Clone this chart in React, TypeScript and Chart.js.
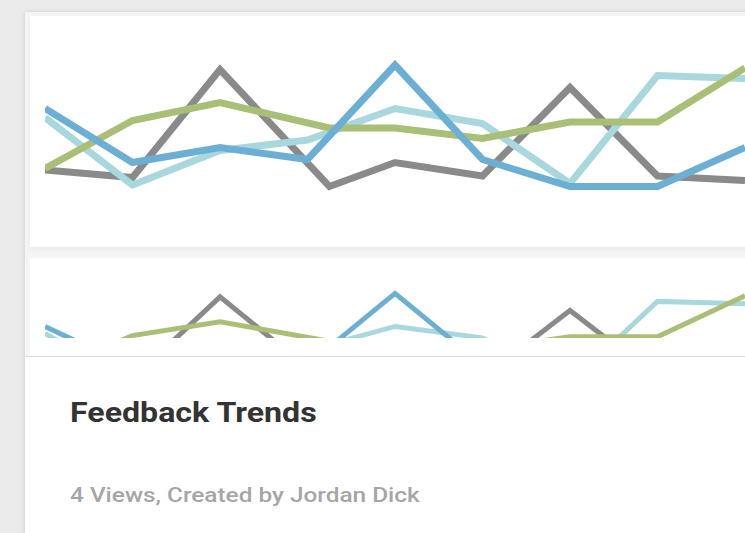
import React, { useEffect, useRef } from "react";
import { Chart, registerables } from "chart.js";

Chart.register(...registerables);

// Day positions along the x axis (two series have a mid-day reading on day 3)
const days = [0, 1, 2, 3, 4, 5, 6, 7, 8];
const shiftedDays = [0, 1, 2, 3.25, 4, 5, 6, 7, 8];

// Feedback scores per series
const slateScores = [20, 15, 87, 9, 25, 16, 75, 16, 13];
const oceanScores = [61, 25, 35, 27, 90, 27, 9, 9, 35];
const mistScores = [55, 10, 33, 40, 61, 51, 11, 83, 81];
const sageScores = [21, 53, 65, 48, 48, 41, 52, 52, 88];

const title = "Feedback Trends";
const subtitle = "4 Views, Created by Jordan Dick";

const toPoints = (xs: number[], ys: number[]) => xs.map((x, i) => ({ x, y: ys[i] }));

type ThumbProps = {
  width: number;
  height: number;
  padTop: number;
  padBottom: number;
  lineWidth: number;
};

function TrendLines({ width, height, padTop, padBottom, lineWidth }: ThumbProps) {
  const ref = useRef<HTMLCanvasElement | null>(null);

  useEffect(() => {
    if (!ref.current) return;
    const chart = new Chart(ref.current, {
      type: "line",
      data: {
        datasets: [
          { label: "Ocean", data: toPoints(days, oceanScores), borderColor: "#6cafd4" },
          { label: "Sage", data: toPoints(shiftedDays, sageScores), borderColor: "#a9bf76" },
          { label: "Mist", data: toPoints(days, mistScores), borderColor: "#a8d7de" },
          { label: "Slate", data: toPoints(shiftedDays, slateScores), borderColor: "#8a8a8a" },
        ].map((d) => ({
          ...d,
          borderWidth: lineWidth,
          pointRadius: 0,
          tension: 0,
          fill: false,
          borderJoinStyle: "miter" as const,
        })),
      },
      options: {
        responsive: false,
        animation: false,
        devicePixelRatio: 1,
        layout: { padding: { left: 15, right: 0, top: padTop, bottom: padBottom } },
        plugins: { legend: { display: false }, tooltip: { enabled: false }, title: { display: false } },
        scales: {
          x: { type: "linear", min: 0, max: 8, display: false },
          y: { type: "linear", min: 0, max: 100, display: false },
        },
      },
    });
    return () => chart.destroy();
  }, [width, height, padTop, padBottom, lineWidth]);

  return <canvas ref={ref} width={width} height={height} style={{ width, height, display: "block" }} />;
}

export default function App() {
  return (
    <div
      style={{
        position: "fixed",
        left: 0,
        top: 0,
        width: 745,
        height: 533,
        overflow: "hidden",
        background: "#ebebeb",
        fontFamily: "Roboto, 'Noto Sans', sans-serif",
      }}
    >
      {/* card */}
      <div
        style={{
          position: "absolute",
          left: 25,
          top: 12,
          width: 760,
          height: 540,
          background: "#ffffff",
          boxShadow: "0 0 4px rgba(0,0,0,0.14)",
        }}
      >
        {/* thumbnail area */}
        <div style={{ position: "absolute", left: 0, top: 0, width: 760, height: 345, background: "#f5f5f5" }}>
          <div
            style={{
              position: "absolute",
              left: 5,
              top: 4,
              width: 755,
              height: 231,
              background: "#ffffff",
              boxShadow: "0 2px 5px rgba(0,0,0,0.06)",
            }}
          >
            <TrendLines width={715} height={231} padTop={34} padBottom={47} lineWidth={7} />
          </div>
          <div
            style={{
              position: "absolute",
              left: 5,
              top: 246,
              width: 755,
              height: 99,
              background: "#ffffff",
            }}
          >
            <div style={{ width: 715, height: 80, overflow: "hidden" }}>
              <TrendLines width={715} height={138} padTop={24} padBottom={0} lineWidth={5} />
            </div>
          </div>
        </div>
        {/* separator */}
        <div style={{ position: "absolute", left: 0, top: 344, width: 760, height: 1, background: "#d9d9d9" }} />
        {/* caption */}
        <div
          style={{
            position: "absolute",
            left: 45,
            top: 385,
            fontSize: 27,
            fontWeight: 700,
            color: "#333333",
            whiteSpace: "nowrap",
            lineHeight: "32px",
            transform: "scaleX(1.19)",
            transformOrigin: "left center",
          }}
        >
          {title}
        </div>
        <div
          style={{
            position: "absolute",
            left: 45,
            top: 471,
            fontSize: 21,
            fontWeight: 500,
            color: "#a6a6a6",
            whiteSpace: "nowrap",
            lineHeight: "24px",
            transform: "scaleX(1.16)",
            transformOrigin: "left center",
          }}
        >
          {subtitle}
        </div>
      </div>
    </div>
  );
}
